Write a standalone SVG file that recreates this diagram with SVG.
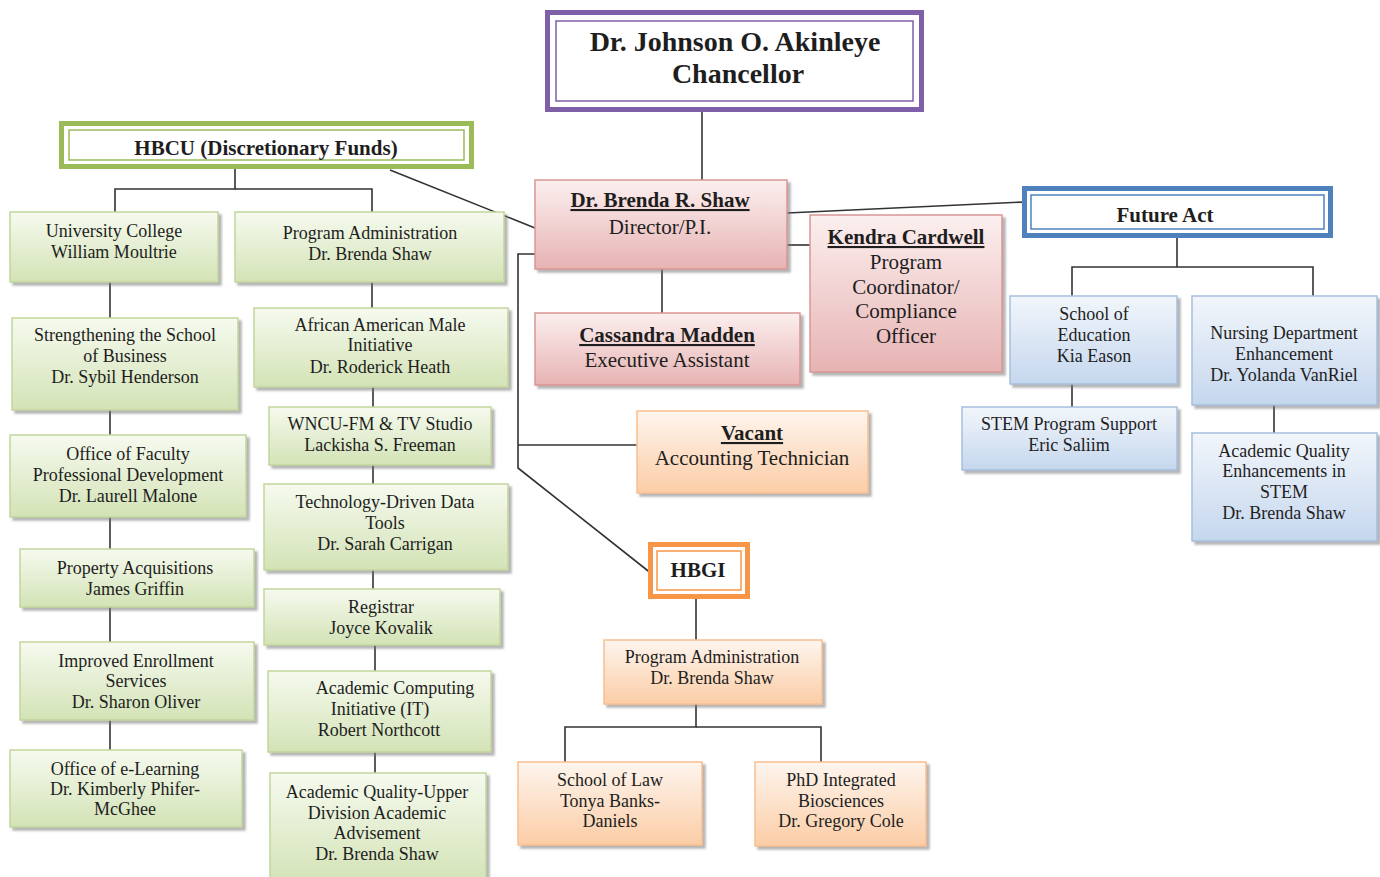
<svg xmlns="http://www.w3.org/2000/svg" width="1380" height="877" viewBox="0 0 1380 877">
<defs>
<linearGradient id="gG" x1="0" y1="0" x2="0" y2="1"><stop offset="0" stop-color="#f6faef"/><stop offset="1" stop-color="#d3e3b6"/></linearGradient>
<linearGradient id="gP" x1="0" y1="0" x2="0" y2="1"><stop offset="0" stop-color="#fcefef"/><stop offset="1" stop-color="#e7b3b3"/></linearGradient>
<linearGradient id="gO" x1="0" y1="0" x2="0" y2="1"><stop offset="0" stop-color="#fef5ee"/><stop offset="1" stop-color="#fbcda6"/></linearGradient>
<linearGradient id="gB" x1="0" y1="0" x2="0" y2="1"><stop offset="0" stop-color="#f2f6fb"/><stop offset="1" stop-color="#c5d7ee"/></linearGradient>
<filter id="sh" x="-10%" y="-10%" width="125%" height="130%"><feDropShadow dx="3" dy="3" stdDeviation="1.2" flood-color="#777" flood-opacity="0.55"/></filter>
</defs>
<style>
.g{fill:url(#gG);stroke:#c2d69c;stroke-width:1.5;filter:url(#sh)}
.p{fill:url(#gP);stroke:#d99694;stroke-width:1.5;filter:url(#sh)}
.o{fill:url(#gO);stroke:#f9bf8f;stroke-width:1.5;filter:url(#sh)}
.b{fill:url(#gB);stroke:#a6bfde;stroke-width:1.5;filter:url(#sh)}
.dbo{fill:#fff;stroke-width:5}
.dbi{fill:none;stroke-width:1.5}
text{font-family:"Liberation Serif","Times New Roman",serif;text-anchor:middle;fill:#1e1e1e}
.t{font-size:18px}
.m{font-size:21px}
.h{font-size:21px;font-weight:bold}
.u{text-decoration:underline}
.c{font-size:28px;font-weight:bold}
.con line,.con polyline{stroke:#333;stroke-width:1.6;fill:none}
</style>
<g class="con">
<line x1="702" y1="112" x2="702" y2="181"/>
<polyline points="235,169 235,189 115,189 115,212"/>
<polyline points="235,189 372,189 372,212"/>
<line x1="390" y1="170" x2="535" y2="228"/>
<line x1="787" y1="213" x2="1025" y2="202"/>
<line x1="787" y1="245" x2="810" y2="245"/>
<line x1="662" y1="268" x2="662" y2="313"/>
<polyline points="535,254 518,254 518,468 652,574"/>
<line x1="518" y1="445" x2="637" y2="445"/>
<line x1="696" y1="599" x2="696" y2="640"/>
<polyline points="696,704 696,727 565,727 565,762"/>
<polyline points="696,727 821,727 821,762"/>
<polyline points="1177,238 1177,267 1072,267 1072,296"/>
<polyline points="1177,267 1313,267 1313,296"/>
<line x1="1072" y1="384" x2="1072" y2="407"/>
<line x1="1274" y1="405" x2="1274" y2="433"/>
<line x1="110" y1="282" x2="110" y2="318"/>
<line x1="110" y1="410" x2="110" y2="435"/>
<line x1="110" y1="517" x2="110" y2="549"/>
<line x1="110" y1="607" x2="110" y2="642"/>
<line x1="110" y1="720" x2="110" y2="750"/>
<line x1="372" y1="282" x2="372" y2="308"/>
<line x1="373" y1="387" x2="373" y2="407"/>
<line x1="373" y1="465" x2="373" y2="484"/>
<line x1="373" y1="570" x2="373" y2="589"/>
<line x1="375" y1="645" x2="375" y2="671"/>
<line x1="375" y1="752" x2="375" y2="773"/>
</g>
<g id="chancellor">
<rect class="dbo" x="547.5" y="12.5" width="374" height="97" stroke="#7f5fa8"/>
<rect class="dbi" x="556" y="21" width="357" height="80" stroke="#7f5fa8"/>
<text class="c" x="735" y="51">Dr. Johnson O. Akinleye</text>
<text class="c" x="738" y="83">Chancellor</text>
</g>
<g id="hbcu">
<rect class="dbo" x="61.5" y="123.5" width="410" height="43" stroke="#9bbb59"/>
<rect class="dbi" x="69" y="130" width="395" height="30" stroke="#9bbb59"/>
<text class="h" x="266" y="155">HBCU (Discretionary Funds)</text>
</g>
<g id="shaw">
<rect class="p" x="535" y="180" width="252" height="89"/>
<text class="h u" x="660" y="207">Dr. Brenda R. Shaw</text>
<text class="m" x="660" y="234">Director/P.I.</text>
</g>
<g id="kendra">
<rect class="p" x="810" y="215" width="192" height="157"/>
<text class="h u" x="906" y="244">Kendra Cardwell</text>
<text class="m" x="906" y="269">Program</text>
<text class="m" x="906" y="294">Coordinator/</text>
<text class="m" x="906" y="318">Compliance</text>
<text class="m" x="906" y="343">Officer</text>
</g>
<g id="cassandra">
<rect class="p" x="535" y="313" width="265" height="72"/>
<text class="h u" x="667" y="342">Cassandra Madden</text>
<text class="m" x="667" y="367">Executive Assistant</text>
</g>
<g id="vacant">
<rect class="o" x="637" y="411" width="231" height="82"/>
<text class="h u" x="752" y="440">Vacant</text>
<text class="m" x="752" y="465">Accounting Technician</text>
</g>
<g id="hbgi">
<rect class="dbo" x="650.5" y="544.5" width="97" height="52" stroke="#f79646"/>
<rect class="dbi" x="657" y="551" width="84" height="39" stroke="#f79646"/>
<text class="h" x="698" y="577">HBGI</text>
</g>
<g id="hbgi-admin">
<rect class="o" x="604" y="640" width="218" height="64"/>
<text class="t" x="712" y="663">Program Administration</text>
<text class="t" x="712" y="684">Dr. Brenda Shaw</text>
</g>
<g id="law">
<rect class="o" x="518" y="762" width="184" height="83"/>
<text class="t" x="610" y="786">School of Law</text>
<text class="t" x="610" y="807">Tonya Banks-</text>
<text class="t" x="610" y="827">Daniels</text>
</g>
<g id="phd">
<rect class="o" x="755" y="762" width="171" height="84"/>
<text class="t" x="841" y="786">PhD Integrated</text>
<text class="t" x="841" y="807">Biosciences</text>
<text class="t" x="841" y="827">Dr. Gregory Cole</text>
</g>
<g id="future">
<rect class="dbo" x="1024.5" y="188.5" width="306" height="47" stroke="#4f81bd"/>
<rect class="dbi" x="1031" y="195" width="293" height="34" stroke="#4f81bd"/>
<text class="h" x="1165" y="222">Future Act</text>
</g>
<g id="education">
<rect class="b" x="1010" y="296" width="167" height="88"/>
<text class="t" x="1094" y="320">School of</text>
<text class="t" x="1094" y="341">Education</text>
<text class="t" x="1094" y="362">Kia Eason</text>
</g>
<g id="nursing">
<rect class="b" x="1192" y="296" width="185" height="109"/>
<text class="t" x="1284" y="339">Nursing Department</text>
<text class="t" x="1284" y="360">Enhancement</text>
<text class="t" x="1284" y="381">Dr. Yolanda VanRiel</text>
</g>
<g id="stem-support">
<rect class="b" x="962" y="407" width="215" height="63"/>
<text class="t" x="1069" y="430">STEM Program Support</text>
<text class="t" x="1069" y="451">Eric Saliim</text>
</g>
<g id="aq-stem">
<rect class="b" x="1192" y="433" width="185" height="108"/>
<text class="t" x="1284" y="457">Academic Quality</text>
<text class="t" x="1284" y="477">Enhancements in</text>
<text class="t" x="1284" y="498">STEM</text>
<text class="t" x="1284" y="519">Dr. Brenda Shaw</text>
</g>
<g id="univ">
<rect class="g" x="10" y="212" width="208" height="70"/>
<text class="t" x="114" y="237">University College</text>
<text class="t" x="114" y="258">William Moultrie</text>
</g>
<g id="business">
<rect class="g" x="12" y="318" width="226" height="92"/>
<text class="t" x="125" y="341">Strengthening the School</text>
<text class="t" x="125" y="362">of Business</text>
<text class="t" x="125" y="383">Dr. Sybil Henderson</text>
</g>
<g id="faculty">
<rect class="g" x="10" y="435" width="236" height="82"/>
<text class="t" x="128" y="460">Office of Faculty</text>
<text class="t" x="128" y="481">Professional Development</text>
<text class="t" x="128" y="502">Dr. Laurell Malone</text>
</g>
<g id="property">
<rect class="g" x="20" y="549" width="234" height="58"/>
<text class="t" x="135" y="574">Property Acquisitions</text>
<text class="t" x="135" y="595">James Griffin</text>
</g>
<g id="enrollment">
<rect class="g" x="20" y="642" width="234" height="78"/>
<text class="t" x="136" y="667">Improved Enrollment</text>
<text class="t" x="136" y="687">Services</text>
<text class="t" x="136" y="708">Dr. Sharon Oliver</text>
</g>
<g id="elearning">
<rect class="g" x="10" y="750" width="232" height="77"/>
<text class="t" x="125" y="775">Office of e-Learning</text>
<text class="t" x="125" y="795">Dr. Kimberly Phifer-</text>
<text class="t" x="125" y="815">McGhee</text>
</g>
<g id="hbcu-admin">
<rect class="g" x="235" y="212" width="269" height="70"/>
<text class="t" x="370" y="239">Program Administration</text>
<text class="t" x="370" y="260">Dr. Brenda Shaw</text>
</g>
<g id="aami">
<rect class="g" x="254" y="308" width="254" height="79"/>
<text class="t" x="380" y="331">African American Male</text>
<text class="t" x="380" y="351">Initiative</text>
<text class="t" x="380" y="373">Dr. Roderick Heath</text>
</g>
<g id="wncu">
<rect class="g" x="269" y="407" width="222" height="58"/>
<text class="t" x="380" y="430">WNCU-FM &amp; TV Studio</text>
<text class="t" x="380" y="451">Lackisha S. Freeman</text>
</g>
<g id="tech">
<rect class="g" x="264" y="484" width="244" height="86"/>
<text class="t" x="385" y="508">Technology-Driven Data</text>
<text class="t" x="385" y="529">Tools</text>
<text class="t" x="385" y="550">Dr. Sarah Carrigan</text>
</g>
<g id="registrar">
<rect class="g" x="264" y="589" width="236" height="56"/>
<text class="t" x="381" y="613">Registrar</text>
<text class="t" x="381" y="634">Joyce Kovalik</text>
</g>
<g id="computing">
<rect class="g" x="268" y="671" width="223" height="81"/>
<text class="t" x="395" y="694">Academic Computing</text>
<text class="t" x="380" y="715">Initiative (IT)</text>
<text class="t" x="379" y="736">Robert Northcott</text>
</g>
<g id="upper">
<rect class="g" x="270" y="773" width="216" height="110"/>
<text class="t" x="377" y="798">Academic Quality-Upper</text>
<text class="t" x="377" y="819">Division Academic</text>
<text class="t" x="377" y="839">Advisement</text>
<text class="t" x="377" y="860">Dr. Brenda Shaw</text>
</g>
</svg>
